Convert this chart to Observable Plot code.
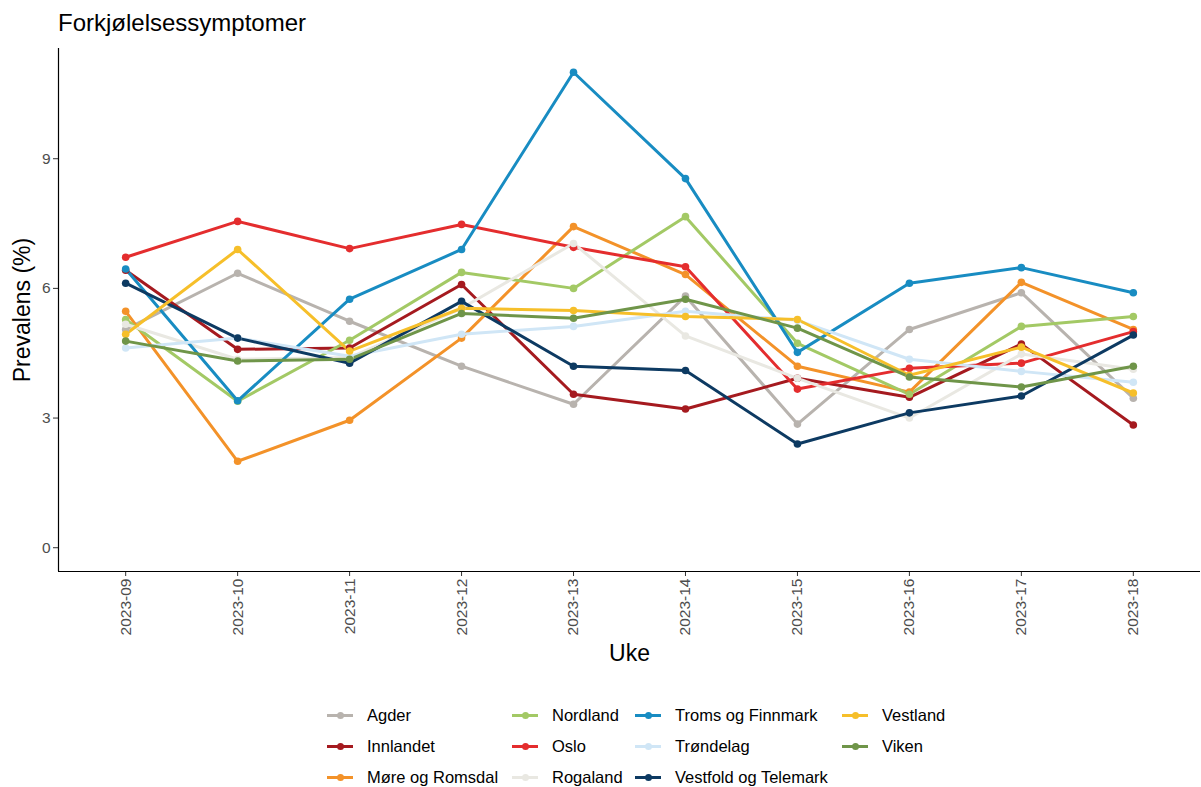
<!DOCTYPE html>
<html>
<head>
<meta charset="utf-8">
<script src="https://cdn.jsdelivr.net/npm/d3@7"></script>
<script src="https://cdn.jsdelivr.net/npm/@observablehq/plot@0.6"></script>
<style>
  body { margin: 0; background: #fff; font-family: "Liberation Sans", Arial, sans-serif; }
  #wrap { position: relative; width: 1201px; height: 787px; }
  #title { position: absolute; left: 58px; top: 11px; font-size: 24px; line-height: 24px; color: #000; }
  #chart { position: absolute; left: 0; top: 40px; }
  #legend { position: absolute; left: 327px; top: 700px; display: grid;
            grid-template-columns: 185px 123px 207px 130px; grid-auto-flow: column;
            grid-template-rows: 31px 31px 31px; font-size: 16.5px; color: #000; }
  .item { display: flex; align-items: center; height: 31px; }
  .key { position: relative; width: 26px; height: 10px; margin-right: 14px; }
  .key .ln { position: absolute; left: 0; top: 3.5px; width: 26px; height: 3px; }
  .key .pt { position: absolute; left: 9.5px; top: 1.5px; width: 7px; height: 7px; border-radius: 50%; }
</style>
</head>
<body>
<div id="wrap">
  <div id="title">Forkjølelsessymptomer</div>
  <div id="chart"></div>
  <div id="legend"></div>
</div>
<script>
const weeks = ["2023-09","2023-10","2023-11","2023-12","2023-13","2023-14","2023-15","2023-16","2023-17","2023-18"];
const regions = ["Agder","Innlandet","Møre og Romsdal","Nordland","Oslo","Rogaland","Troms og Finnmark","Trøndelag","Vestfold og Telemark","Vestland","Viken"];
const colors = ["#B8B3AE","#A51A1F","#F39229","#A3C965","#E42D2E","#E9E8E2","#188CC2","#D0E6F6","#0D3A62","#F6BF2A","#6F9549"];
const yTicks = [0, 3, 6, 9];

const agder      = [5.05, 6.35, 5.24, 4.20, 3.32, 5.82, 2.86, 5.05, 5.90, 3.46];
const innlandet  = [6.42, 4.59, 4.62, 6.09, 3.55, 3.21, 3.92, 3.48, 4.71, 2.84];
const more       = [5.47, 2.00, 2.95, 4.85, 7.43, 6.32, 4.20, 3.60, 6.14, 5.05];
const nordland   = [5.28, 3.39, 4.80, 6.37, 6.00, 7.66, 4.73, 3.55, 5.12, 5.35];
const oslo       = [6.72, 7.55, 6.92, 7.48, 6.95, 6.50, 3.67, 4.15, 4.27, 5.00];
const rogaland   = [5.17, 4.36, 4.40, 5.54, 7.04, 4.90, 3.92, 3.00, 4.48, 4.13];
const troms      = [6.45, 3.40, 5.75, 6.90, 11.00, 8.54, 4.52, 6.12, 6.48, 5.90];
const trondelag  = [4.62, 4.85, 4.43, 4.94, 5.12, 5.47, 5.26, 4.36, 4.08, 3.83];
const vestfold   = [6.12, 4.85, 4.27, 5.70, 4.20, 4.10, 2.40, 3.12, 3.51, 4.92];
const vestland   = [4.94, 6.90, 4.55, 5.54, 5.49, 5.35, 5.28, 3.99, 4.64, 3.58];
const viken      = [4.78, 4.32, 4.36, 5.42, 5.31, 5.75, 5.08, 3.95, 3.72, 4.20];

const series = [agder, innlandet, more, nordland, oslo, rogaland, troms, trondelag, vestfold, vestland, viken];
const data = [];
regions.forEach((r, i) => series[i].forEach((v, j) => data.push({region: r, wi: j, week: weeks[j], value: v})));

const chart = Plot.plot({
  width: 1201,
  height: 640,
  marginTop: 8,
  marginBottom: 109,
  marginLeft: 58,
  marginRight: 1,
  style: {fontFamily: "'Liberation Sans', Arial, sans-serif", background: "#fff"},
  x: {type: "linear", domain: [-0.6, 9.6]},
  y: {domain: [-0.55, 11.55]},
  color: {domain: regions, range: colors},
  marks: [
    Plot.axisY({ticks: yTicks, tickSize: 5, tickPadding: 3, fontSize: 15.5, color: "#4D4D4D", stroke: "#333", label: null}),
    Plot.axisX({ticks: d3.range(weeks.length), tickFormat: i => weeks[i], tickRotate: -90, tickSize: 5, tickPadding: 2, fontSize: 15.5, color: "#4D4D4D", stroke: "#333", label: null}),
    Plot.ruleX([-0.6], {stroke: "#000", strokeWidth: 1.2}),
    Plot.ruleY([-0.55], {stroke: "#000", strokeWidth: 1.2}),
    Plot.line(data, {x: "wi", y: "value", z: "region", stroke: "region", strokeWidth: 3}),
    Plot.dot(data, {x: "wi", y: "value", fill: "region", r: 3.8}),
    Plot.text(["Prevalens (%)"], {frameAnchor: "left", dx: -36, rotate: -90, fontSize: 23, fill: "#000", textAnchor: "middle", lineAnchor: "middle"}),
    Plot.text(["Uke"], {frameAnchor: "bottom", dy: 82, fontSize: 23, fill: "#000", textAnchor: "middle", lineAnchor: "middle"})
  ]
});
document.getElementById("chart").appendChild(chart);

const legend = document.getElementById("legend");
regions.forEach((r, i) => {
  const item = document.createElement("div");
  item.className = "item";
  item.innerHTML = `<div class="key"><div class="ln" style="background:${colors[i]}"></div><div class="pt" style="background:${colors[i]}"></div></div><span>${r}</span>`;
  legend.appendChild(item);
});
</script>
</body>
</html>
